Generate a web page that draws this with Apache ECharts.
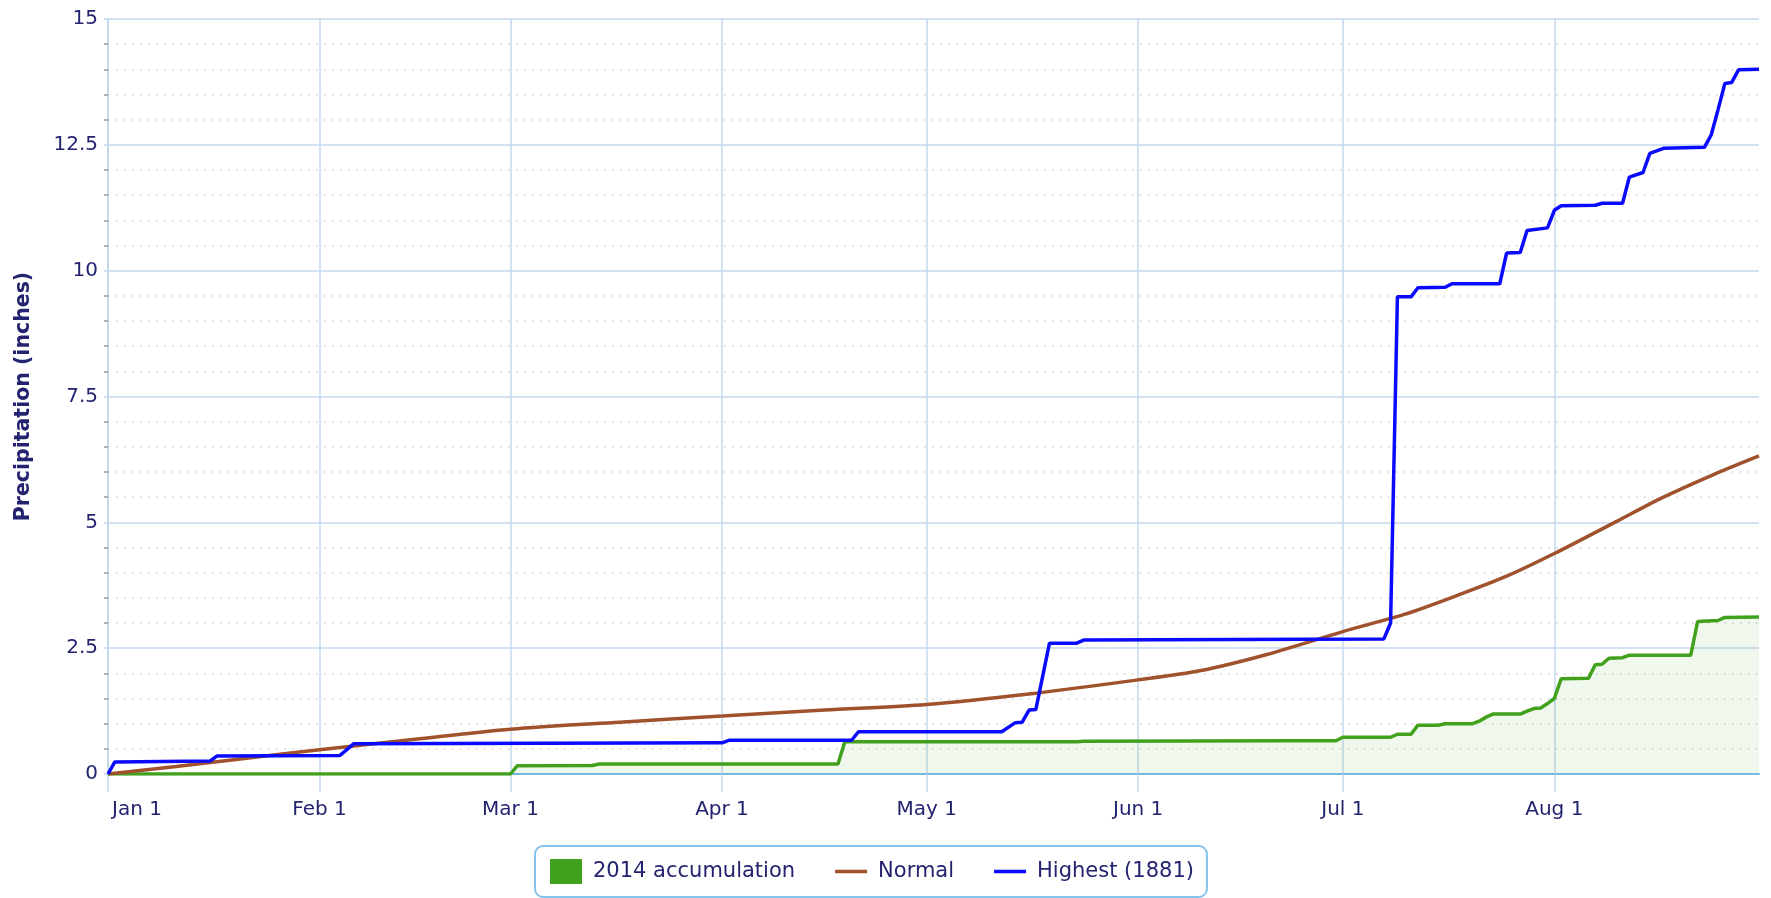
<!DOCTYPE html>
<html>
<head>
<meta charset="utf-8">
<script src="https://cdn.jsdelivr.net/npm/echarts@6/dist/echarts.min.js"></script>
<style>
  html, body { margin: 0; padding: 0; background: #fff; }
  #chart { width: 1771px; height: 898px; }
</style>
</head>
<body>
<div id="chart"></div>
<script>
var monthNames = ['Jan', 'Feb', 'Mar', 'Apr', 'May', 'Jun', 'Jul', 'Aug', 'Sep', 'Oct', 'Nov', 'Dec'];

// 2014 accumulation
var accDates = ['01-01', '03-01', '03-02', '03-13', '03-14', '04-18', '04-19', '05-23', '05-24', '06-23',
    '06-30', '07-01', '07-08', '07-09', '07-11', '07-12', '07-15', '07-16', '07-20', '07-21',
    '07-22', '07-23', '07-27', '07-28', '07-29', '07-30', '07-31', '08-01', '08-02', '08-06',
    '08-07', '08-08', '08-09', '08-11', '08-12', '08-21', '08-22', '08-25', '08-26', '08-31'];
var accValues = [0, 0, 0.165, 0.17, 0.20, 0.20, 0.64, 0.64, 0.65, 0.66,
    0.66, 0.73, 0.73, 0.79, 0.79, 0.97, 0.97, 1.00, 1.00, 1.05,
    1.13, 1.19, 1.19, 1.25, 1.30, 1.31, 1.40, 1.50, 1.89, 1.90,
    2.17, 2.18, 2.30, 2.31, 2.36, 2.36, 3.03, 3.05, 3.11, 3.12];

// Normal
var normalDates = ['01-01', '01-11', '01-21', '02-01', '02-15', '03-01', '03-17', '04-01', '04-16', '05-01',
    '05-16', '06-01', '06-10', '06-20', '07-01', '07-10', '07-18', '07-25', '08-01', '08-10',
    '08-17', '08-24', '08-31'];
var normalValues = [0, 0.15, 0.31, 0.48, 0.69, 0.89, 1.03, 1.15, 1.27, 1.38,
    1.59, 1.87, 2.05, 2.38, 2.83, 3.17, 3.56, 3.93, 4.38, 5.01,
    5.50, 5.93, 6.32];

// Highest (1881)
var highDates = ['01-01', '01-02', '01-16', '01-17', '02-04', '02-06', '03-06', '04-01', '04-02', '04-20',
    '04-21', '05-12', '05-14', '05-15', '05-16', '05-17', '05-19', '05-23', '05-24', '07-07',
    '07-08', '07-09', '07-11', '07-12', '07-16', '07-17', '07-24', '07-25', '07-27', '07-28',
    '07-31', '08-01', '08-02', '08-07', '08-08', '08-11', '08-12', '08-14', '08-15', '08-17',
    '08-23', '08-24', '08-25', '08-26', '08-27', '08-28', '08-31'];
var highValues = [0, 0.24, 0.26, 0.36, 0.37, 0.60, 0.61, 0.62, 0.67, 0.67,
    0.84, 0.84, 1.02, 1.03, 1.27, 1.28, 2.60, 2.60, 2.66, 2.68,
    3.00, 9.48, 9.48, 9.66, 9.67, 9.74, 9.74, 10.35, 10.36, 10.80,
    10.85, 11.20, 11.29, 11.30, 11.34, 11.34, 11.86, 11.95, 12.33, 12.43,
    12.45, 12.70, 13.20, 13.72, 13.74, 13.99, 14.00];

function toPairs(dates, values) {
    return dates.map(function (d, i) { return ['2014-' + d, values[i]]; });
}

var textColor = '#23236f';
var gridColor = '#c4d9ee';
var font = 'DejaVu Sans';

var chart = echarts.init(document.getElementById('chart'));
var option = {
    animation: false,
    textStyle: { fontFamily: font },
    grid: { left: 108, right: 12, top: 19, bottom: 124 },
    legend: {
        left: 535,
        top: 846,
        padding: [13, 13, 13, 15],
        itemGap: 40,
        itemWidth: 32,
        itemHeight: 25,
        borderColor: '#84c4ec',
        borderWidth: 2,
        borderRadius: 8,
        textStyle: { color: textColor, fontSize: 21, fontFamily: font, padding: [0, 0, 0, 6] },
        data: [
            { name: '2014 accumulation', icon: 'rect' },
            { name: 'Normal', icon: 'path://M0,0 H34 V3.5 H0 Z' },
            { name: 'Highest (1881)', icon: 'path://M0,0 H34 V3.5 H0 Z' }
        ]
    },
    xAxis: {
        type: 'time',
        min: '2014-01-01',
        max: '2014-08-31',
        splitNumber: 8,
        axisLine: { show: true, lineStyle: { color: '#74bce8', width: 2 } },
        axisTick: { show: true, length: 18, lineStyle: { color: gridColor, width: 1.5 } },
        axisLabel: {
            color: textColor,
            fontSize: 20,
            fontFamily: font,
            margin: 26,
            showMaxLabel: false,
            formatter: function (val) {
                var d = new Date(val);
                var s = monthNames[d.getMonth()] + ' ' + d.getDate();
                return d.getMonth() === 0 ? '{first|' + s + '}' : s;
            },
            rich: {
                first: { color: textColor, fontSize: 20, fontFamily: font, padding: [0, 0, 0, 58] }
            }
        },
        splitLine: { show: true, showMaxLine: false, lineStyle: { color: gridColor, width: 1.5 } }
    },
    yAxis: {
        type: 'value',
        min: 0,
        max: 15,
        interval: 2.5,
        name: 'Precipitation (inches)',
        nameLocation: 'middle',
        nameGap: 74,
        nameTextStyle: { color: textColor, fontSize: 20.5, fontWeight: 'bold', fontFamily: font },
        axisLine: { show: true, lineStyle: { color: gridColor, width: 1.5 } },
        axisTick: { show: true, length: 4, lineStyle: { color: gridColor, width: 1.5 } },
        minorTick: { show: true, splitNumber: 5, length: 4, lineStyle: { color: '#999', width: 1.5 } },
        axisLabel: {
            color: textColor,
            fontSize: 20,
            fontFamily: font,
            margin: 10,
            formatter: function (v) { return String(v); }
        },
        splitLine: { show: true, lineStyle: { color: gridColor, width: 1.5 } },
        minorSplitLine: { show: true, lineStyle: { color: '#cfcfcf', width: 1.5, type: [1.5, 6.5] } }
    },
    series: [
        {
            name: '2014 accumulation',
            type: 'line',
            data: toPairs(accDates, accValues),
            showSymbol: false,
            symbol: 'none',
            color: '#41a11d',
            lineStyle: { color: '#41a11d', width: 3.5 },
            areaStyle: { color: 'rgba(65,161,29,0.11)' },
            z: 2
        },
        {
            name: 'Normal',
            type: 'line',
            data: toPairs(normalDates, normalValues),
            smooth: 0.3,
            showSymbol: false,
            symbol: 'none',
            color: '#a0522d',
            lineStyle: { color: '#a0522d', width: 3.5 },
            z: 3
        },
        {
            name: 'Highest (1881)',
            type: 'line',
            data: toPairs(highDates, highValues),
            showSymbol: false,
            symbol: 'none',
            color: '#0a0aff',
            lineStyle: { color: '#0a0aff', width: 3.5 },
            z: 4
        }
    ]
};
chart.setOption(option);
</script>
</body>
</html>
